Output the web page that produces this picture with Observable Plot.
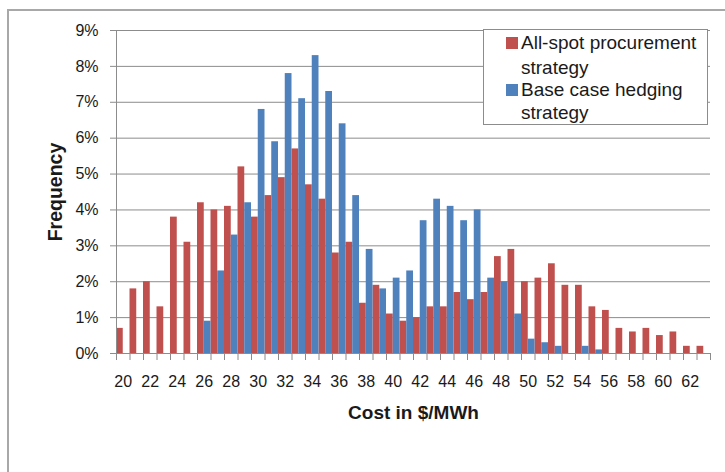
<!DOCTYPE html>
<html><head><meta charset="utf-8">
<script src="https://cdn.jsdelivr.net/npm/d3@7"></script>
<script src="https://cdn.jsdelivr.net/npm/@observablehq/plot@0.6"></script>
<style>
body{margin:0;background:#fff;font-family:"Liberation Sans",Arial,sans-serif;color:#1a1a1a;}
#wrap{position:relative;width:725px;height:472px;overflow:hidden;}
#chart{position:absolute;left:0;top:0;}
#frame{position:absolute;left:7px;top:9px;width:760px;height:500px;border-left:2px solid #a8a8a8;border-top:2px solid #a8a8a8;}
#legend{position:absolute;left:483px;top:29px;width:225px;height:96px;box-sizing:border-box;border:1px solid #8c8c8c;background:#fff;}
.sw{position:absolute;left:22px;width:12px;height:12px;}
.lt{position:absolute;left:37px;font-size:19px;line-height:20px;white-space:nowrap;}
</style></head>
<body>
<div id="wrap">
  <div id="frame"></div>
  <div id="chart"></div>
  <div id="legend"></div>
</div>
<script>
const costs = [20,21,22,23,24,25,26,27,28,29,30,31,32,33,34,35,36,37,38,39,40,41,42,43,44,45,46,47,48,49,50,51,52,53,54,55,56,57,58,59,60,61,62,63];
const allSpot = [0.7,1.8,2.0,1.3,3.8,3.1,4.2,4.0,4.1,5.2,3.8,4.4,4.9,5.7,4.7,4.3,2.8,3.1,1.4,1.9,1.1,0.9,1.0,1.3,1.3,1.7,1.5,1.7,2.7,2.9,2.0,2.1,2.5,1.9,1.9,1.3,1.2,0.7,0.6,0.7,0.5,0.6,0.2,0.2];
const baseCase = [0,0,0,0,0,0,0.9,2.3,3.3,4.2,6.8,5.9,7.8,7.1,8.3,7.3,6.4,4.4,2.9,1.8,2.1,2.3,3.7,4.3,4.1,3.7,4.0,2.1,2.0,1.1,0.4,0.3,0.2,0,0.2,0.1,0,0,0,0,0,0,0,0];
const xLabels = [20,22,24,26,28,30,32,34,36,38,40,42,44,46,48,50,52,54,56,58,60,62];
const yTicks = [0,1,2,3,4,5,6,7,8,9];
const seriesNames = ["All-spot procurement strategy","Base case hedging strategy"];
const seriesColors = ["#C0504D","#4F81BD"];

const redRows = costs.map((c,i)=>({cost:c, value:allSpot[i]}));
const blueRows = costs.map((c,i)=>({cost:c, value:baseCase[i]}));
const bounds = costs.map(c=>c-0.5).concat([costs[costs.length-1]+0.5]);

const grid = "#8c8c8c";
const chart = Plot.plot({
  width:725, height:472,
  marginLeft:116, marginRight:15, marginTop:30, marginBottom:119,
  x:{type:"linear", domain:[bounds[0], bounds[bounds.length-1]]},
  y:{domain:[0,9]},
  style:{fontFamily:'"Liberation Sans", Arial, sans-serif', fontSize:"16px", color:"#1a1a1a", background:"transparent"},
  marks:[
    Plot.ruleY(yTicks, {stroke:grid, strokeWidth:1}),
    Plot.rectY(redRows, {x1:d=>d.cost-0.5, x2:d=>d.cost, y1:0, y2:"value", fill:seriesColors[0]}),
    Plot.rectY(blueRows, {x1:d=>d.cost, x2:d=>d.cost+0.5, y1:0, y2:"value", fill:seriesColors[1]}),
    Plot.frame({anchor:"left", stroke:grid}),
    Plot.axisY(yTicks, {tickSize:6, tickPadding:12, stroke:grid, fill:"#1a1a1a", tickFormat:d=>d+"%", label:null, fontSize:16}),
    Plot.axisX(bounds, {tickSize:7, tickFormat:()=>"", label:null, stroke:grid}),
    Plot.axisX(xLabels, {tickSize:0, tickPadding:22, label:null, fill:"#1a1a1a", fontSize:16}),
    Plot.text(["Frequency"], {text:d=>d, frameAnchor:"left", dx:-61, rotate:-90, textAnchor:"middle", lineAnchor:"middle", fontWeight:"bold", fontSize:19.5, fill:"#1a1a1a"}),
    Plot.text(["Cost in $/MWh"], {text:d=>d, frameAnchor:"bottom", dy:59, textAnchor:"middle", lineAnchor:"middle", fontWeight:"bold", fontSize:19, fill:"#1a1a1a"})
  ]
});
document.getElementById("chart").appendChild(chart);

const legend = document.getElementById("legend");
const lines = [["All-spot procurement","strategy"],["Base case hedging","strategy"]];
const lineCenters = [[13,38],[60,83]];
lines.forEach((ls,i)=>{
  const sw = document.createElement("div");
  sw.className = "sw";
  sw.style.top = (lineCenters[i][0]-6)+"px";
  sw.style.background = seriesColors[i];
  legend.appendChild(sw);
  ls.forEach((t,j)=>{
    const el = document.createElement("div");
    el.className = "lt";
    el.style.top = (lineCenters[i][j]-10)+"px";
    el.textContent = t;
    legend.appendChild(el);
  });
});
</script>
</body></html>
